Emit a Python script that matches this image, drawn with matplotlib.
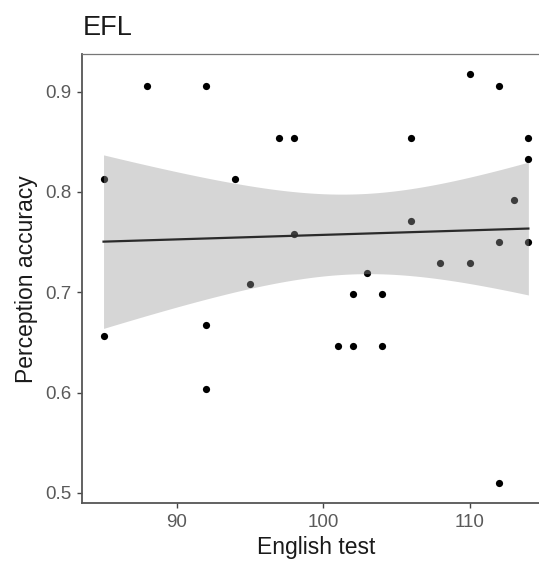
import numpy as np
import matplotlib
matplotlib.use("Agg")
import matplotlib.pyplot as plt

plt.rcParams['font.family'] = ['Liberation Sans', 'DejaVu Sans']

# data
english = [85, 85, 88, 92, 92, 92, 94, 95, 97, 98, 98, 101, 102, 102, 103,
           104, 104, 106, 106, 108, 110, 110, 112, 112, 112, 113, 114, 114, 114]
accuracy = [0.8125, 0.656, 0.906, 0.906, 0.667, 0.604, 0.8125, 0.708, 0.854,
            0.854, 0.758, 0.646, 0.698, 0.646, 0.719, 0.698, 0.646, 0.854,
            0.771, 0.729, 0.917, 0.729, 0.906, 0.750, 0.510, 0.792, 0.854,
            0.833, 0.750]
xticks = [90, 100, 110]
yticks = [0.5, 0.6, 0.7, 0.8, 0.9]

x = np.array(english, dtype=float)
y = np.array(accuracy)
n = len(x)

# linear fit + 95% confidence band (like geom_smooth(method="lm"))
slope, icpt = np.polyfit(x, y, 1)
resid = y - (icpt + slope*x)
s = np.sqrt(np.sum(resid**2)/(n-2))
sxx = np.sum((x - x.mean())**2)
tq = 2.052  # t(0.975, df=27)
xs = np.linspace(x.min(), x.max(), 80)
fit = icpt + slope*xs
se = s*np.sqrt(1.0/n + (xs - x.mean())**2/sxx)

fig = plt.figure(figsize=(5.39, 5.63), dpi=100)
ax = fig.add_axes([0.1527, 0.106, 0.867, 0.798])

ax.scatter(x, y, s=27, color='black', linewidths=0, zorder=2)
ax.fill_between(xs, fit - tq*se, fit + tq*se, color='#999999', alpha=0.4,
                linewidth=0, zorder=3)
ax.plot(xs, fit, color='#2b2b2b', lw=1.6, zorder=4)

# ggplot style 5% expansion
xr = x.max() - x.min()
yr = y.max() - y.min()
ax.set_xlim(x.min() - 0.05*xr, x.max() + 0.05*xr)
ax.set_ylim(y.min() - 0.05*yr, y.max() + 0.05*yr)
ax.set_xticks(xticks)
ax.set_yticks(yticks)
ax.set_xticklabels([str(t) for t in xticks])
ax.set_yticklabels(['%.1f' % t for t in yticks])

for side in ['left', 'bottom']:
    ax.spines[side].set_color('#555555')
    ax.spines[side].set_linewidth(1.3)
ax.spines['top'].set_color('#777777')
ax.spines['top'].set_linewidth(0.9)
ax.spines['right'].set_visible(False)

ax.tick_params(axis='both', direction='out', length=3.5, width=1.0,
               color='#444444', labelcolor='#5a5a5a', labelsize=13.5)
ax.tick_params(axis='x', pad=4)
ax.tick_params(axis='y', pad=4.5)

ax.set_xlabel('English test', fontsize=16.5, color='#1a1a1a', labelpad=4)
ax.set_ylabel('Perception accuracy', fontsize=16.5, color='#1a1a1a', labelpad=5)
fig.text(0.1527, 0.951, 'EFL', fontsize=19.5, color='#1a1a1a',
         ha='left', va='center')

fig.savefig('out.png', dpi=100)
